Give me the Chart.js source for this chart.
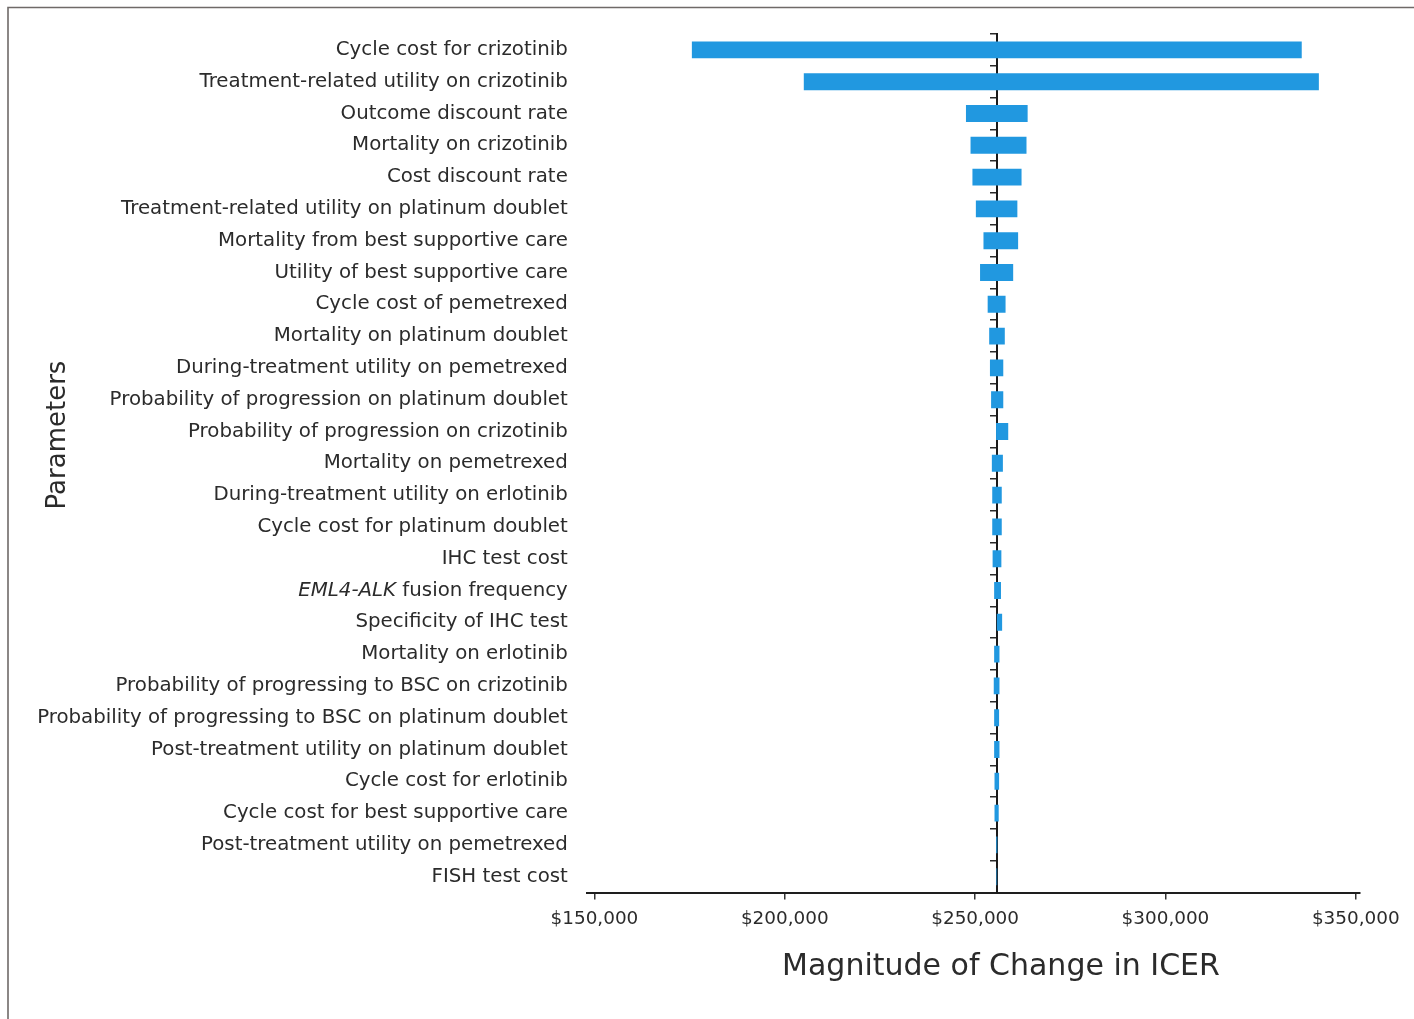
<!DOCTYPE html>
<html>
<head>
<meta charset="utf-8">
<title>One-way sensitivity analysis: ICER tornado diagram</title>
<script src="https://cdn.jsdelivr.net/npm/chart.js@4/dist/chart.umd.min.js"></script>
<style>
  html, body { margin: 0; padding: 0; background: #ffffff; }
  #wrap { width: 1414px; height: 1019px; position: relative; }
  canvas { display: block; }
</style>
</head>
<body>
<div id="wrap"><canvas id="tornado" width="1414" height="1019"></canvas></div>
<script>
// Parameters varied in the one-way sensitivity analysis (largest swing first)
const parameters = [
  'Cycle cost for crizotinib',
  'Treatment-related utility on crizotinib',
  'Outcome discount rate',
  'Mortality on crizotinib',
  'Cost discount rate',
  'Treatment-related utility on platinum doublet',
  'Mortality from best supportive care',
  'Utility of best supportive care',
  'Cycle cost of pemetrexed',
  'Mortality on platinum doublet',
  'During-treatment utility on pemetrexed',
  'Probability of progression on platinum doublet',
  'Probability of progression on crizotinib',
  'Mortality on pemetrexed',
  'During-treatment utility on erlotinib',
  'Cycle cost for platinum doublet',
  'IHC test cost',
  'EML4-ALK fusion frequency',
  'Specificity of IHC test',
  'Mortality on erlotinib',
  'Probability of progressing to BSC on crizotinib',
  'Probability of progressing to BSC on platinum doublet',
  'Post-treatment utility on platinum doublet',
  'Cycle cost for erlotinib',
  'Cycle cost for best supportive care',
  'Post-treatment utility on pemetrexed',
  'FISH test cost'
];

// ICER (US$ per QALY) at the low and high end of each parameter range
const icerLow = [
  175600, 205000, 247600, 248800, 249300, 250200, 252200, 251300, 253300,
  253700, 253900, 254200, 255500, 254400, 254500, 254500, 254600, 255000,
  255700, 255000, 254900, 255000, 255000, 255100, 255100, 255550, 255600
];
const icerHigh = [
  335800, 340300, 263800, 263500, 262200, 261100, 261300, 260000, 258000,
  257800, 257400, 257400, 258700, 257300, 257000, 257000, 256900, 256800,
  257100, 256400, 256400, 256300, 256400, 256300, 256200, 255850, 255800
];

// Base-case ICER, where the vertical reference axis crosses
const baseICER = 255700;

// Tick values on the ICER axis
const icerTicks = [150000, 200000, 250000, 300000, 350000];

// Axis range
const X_MIN = 148000;
const X_MAX = 351000;

// Part of a label that is set in italics (gene name)
const ITALIC_PREFIX = 'EML4-ALK';

const TEXT_COLOR = '#2b2b2b';
const LABEL_FONT = { family: '"DejaVu Sans", sans-serif', size: 19.8 };
const LABEL_PAD = 19;

const fmtDollar = v => '$' + Number(v).toLocaleString('en-US');

// Frame, axis titles and the italic gene name
const decorations = {
  id: 'decorations',
  beforeDraw(chart) {
    const { ctx, width, height } = chart;
    ctx.save();
    ctx.fillStyle = '#ffffff';
    ctx.fillRect(0, 0, width, height);
    ctx.strokeStyle = '#6f6a68';
    ctx.lineWidth = 1.6;
    ctx.beginPath();
    ctx.moveTo(8, height);
    ctx.lineTo(8, 7.5);
    ctx.lineTo(width, 7.5);
    ctx.stroke();
    ctx.restore();
  },
  afterDraw(chart) {
    const { ctx, scales } = chart;
    ctx.save();
    ctx.fillStyle = TEXT_COLOR;

    // y-axis title
    ctx.font = '26px "DejaVu Sans", sans-serif';
    ctx.textAlign = 'center';
    ctx.textBaseline = 'middle';
    ctx.save();
    ctx.translate(58, 435);
    ctx.rotate(-Math.PI / 2);
    ctx.fillText('Parameters', 0, 0);
    ctx.restore();

    // x-axis title
    ctx.font = '30px "DejaVu Sans", sans-serif';
    ctx.fillText('Magnitude of Change in ICER', 1001, 967);

    // italic gene name in front of its label
    const idx = parameters.findIndex(p => p.startsWith(ITALIC_PREFIX));
    if (idx >= 0) {
      const yScale = scales.y;
      const rest = parameters[idx].slice(ITALIC_PREFIX.length);
      ctx.font = `${LABEL_FONT.size}px ${LABEL_FONT.family}`;
      const restWidth = ctx.measureText(rest).width;
      const xRight = yScale.right - LABEL_PAD - restWidth;
      ctx.font = `italic ${LABEL_FONT.size}px ${LABEL_FONT.family}`;
      ctx.textAlign = 'right';
      ctx.fillText(ITALIC_PREFIX, xRight, yScale.getPixelForValue(idx));
    }
    ctx.restore();
  }
};

new Chart(document.getElementById('tornado'), {
  type: 'bar',
  data: {
    labels: parameters,
    datasets: [{
      label: 'ICER range',
      data: parameters.map((_, i) => [icerLow[i], icerHigh[i]]),
      backgroundColor: '#2198e0',
      borderWidth: 0,
      borderSkipped: false,
      barPercentage: 0.53,
      categoryPercentage: 1.0,
      xAxisID: 'x',
      yAxisID: 'y'
    }]
  },
  options: {
    indexAxis: 'y',
    responsive: false,
    animation: false,
    devicePixelRatio: 1,
    layout: { padding: { left: 0, right: 54.4, top: 34, bottom: 0 } },
    plugins: {
      legend: { display: false },
      tooltip: { enabled: false },
      title: { display: false }
    },
    scales: {
      x: {
        type: 'linear',
        position: 'bottom',
        min: X_MIN,
        max: X_MAX,
        afterBuildTicks: s => { s.ticks = icerTicks.map(v => ({ value: v })); },
        afterFit: s => { s.height = 126.4; },
        ticks: {
          includeBounds: false,
          callback: v => fmtDollar(v),
          color: TEXT_COLOR,
          font: { family: '"DejaVu Sans", sans-serif', size: 18.4 },
          padding: 9,
          maxRotation: 0
        },
        grid: {
          drawOnChartArea: false,
          drawTicks: true,
          tickLength: 7,
          color: '#333333',
          lineWidth: 1.5
        },
        border: { display: true, color: '#1e1e1e', width: 2 }
      },
      y: {
        type: 'category',
        position: 'left',
        afterFit: s => { s.width = 586.8; },
        ticks: {
          color: TEXT_COLOR,
          font: LABEL_FONT,
          padding: LABEL_PAD,
          autoSkip: false,
          callback: function (value) {
            const lbl = this.getLabelForValue(value);
            return lbl.startsWith(ITALIC_PREFIX) ? lbl.slice(ITALIC_PREFIX.length) : lbl;
          }
        },
        grid: { display: false, drawTicks: false },
        border: { display: false }
      },
      base: {
        type: 'category',
        axis: 'y',
        position: { x: baseICER },
        offset: true,
        z: 1,
        ticks: { display: false },
        grid: {
          offset: true,
          drawOnChartArea: false,
          drawTicks: true,
          tickLength: 6,
          color: '#2a2a2a',
          lineWidth: 1.5
        },
        border: { display: true, color: '#1a1a1a', width: 2 }
      }
    }
  },
  plugins: [decorations]
});
</script>
</body>
</html>
